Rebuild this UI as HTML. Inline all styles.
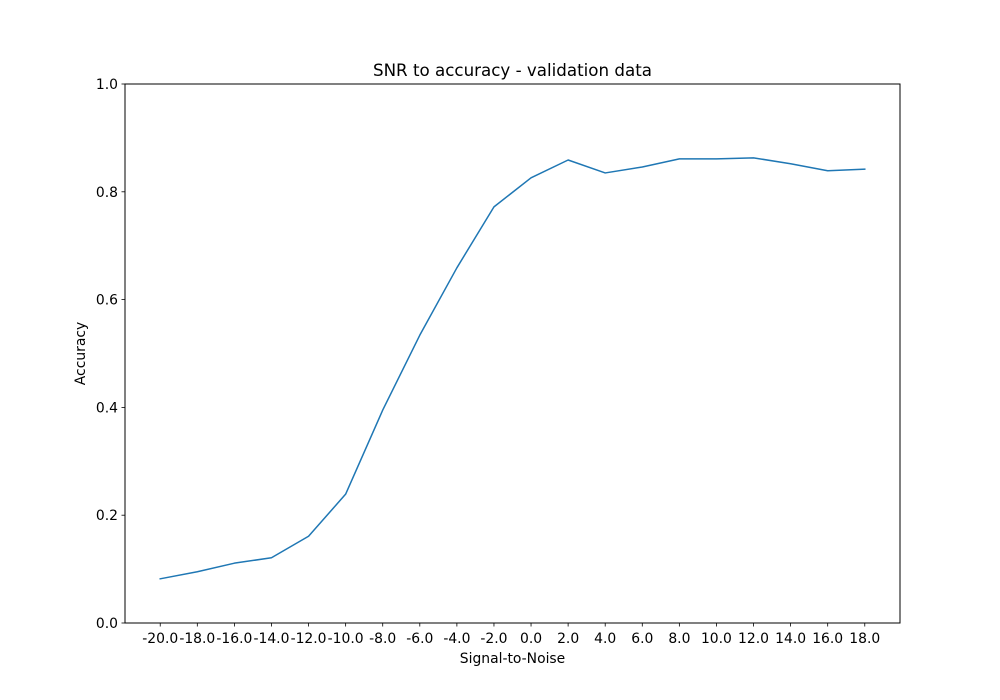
<!DOCTYPE html>
<html><head><meta charset="utf-8"><style>
html,body{margin:0;padding:0;background:#fff;}
svg{display:block;font-family:"DejaVu Sans","Liberation Sans",sans-serif;}
</style></head><body>
<svg id="chart" width="1000" height="700" viewBox="0 0 1000 700">
<rect x="0" y="0" width="1000" height="700" fill="#fff"/>
<text x="512.5" y="76" font-size="16.7" text-anchor="middle">SNR to accuracy - validation data</text>
<g id="yticks"></g>
<g id="xticks"></g>
<polyline id="line" fill="none" stroke="#1f77b4" stroke-width="1.5" stroke-linejoin="round" stroke-linecap="square"/>
<rect x="125" y="84" width="775" height="539" fill="none" stroke="#000" stroke-width="1"/>
<text x="512.5" y="663" font-size="13.9" text-anchor="middle">Signal-to-Noise</text>
<text x="0" y="0" font-size="13.9" text-anchor="middle" transform="translate(85,353.5) rotate(-90)">Accuracy</text>
</svg>
<script>
const categories = [-20,-18,-16,-14,-12,-10,-8,-6,-4,-2,0,2,4,6,8,10,12,14,16,18];
const accuracy = [0.082,0.095,0.111,0.121,0.161,0.239,0.395,0.534,0.659,0.772,0.826,0.859,0.835,0.846,0.861,0.861,0.863,0.852,0.839,0.842];
const yTickValues = [0.0,0.2,0.4,0.6,0.8,1.0];

const NS = "http://www.w3.org/2000/svg";
const L = 125, R = 900, T = 84, B = 623;
const n = categories.length;
const xMin = -0.05*(n-1), xMax = (n-1)*1.05;
function xScale(i){ return L + (i - xMin) / (xMax - xMin) * (R - L); }
function yScale(v){ return B - v * (B - T); }
function mk(tag, attrs, parent){
  const e = document.createElementNS(NS, tag);
  for (const k in attrs) e.setAttribute(k, attrs[k]);
  parent.appendChild(e); return e;
}
const yg = document.getElementById('yticks');
yTickValues.forEach(v => {
  const y = yScale(v);
  const t = mk('line', {x1: L-3.5, x2: L, y1: y, y2: y, stroke: '#000', 'stroke-width': 0.8}, yg);
  
  
  const tx = mk('text', {x: L-7, y: y+5, 'font-size': 13.9, 'text-anchor': 'end'}, yg);
  tx.textContent = v.toFixed(1);
  
  
});
const xg = document.getElementById('xticks');
categories.forEach((c, i) => {
  const x = xScale(i);
  const t = mk('line', {x1: x, x2: x, y1: B, y2: B+3.5, stroke: '#000', 'stroke-width': 0.8}, xg);
  
  
  const tx = mk('text', {x: x, y: B+20, 'font-size': 13.9, 'text-anchor': 'middle'}, xg);
  tx.textContent = c.toFixed(1);
  
  
});
document.getElementById('line').setAttribute('points',
  accuracy.map((v, i) => xScale(i).toFixed(2) + ',' + yScale(v).toFixed(2)).join(' '));
</script>
</body></html>
